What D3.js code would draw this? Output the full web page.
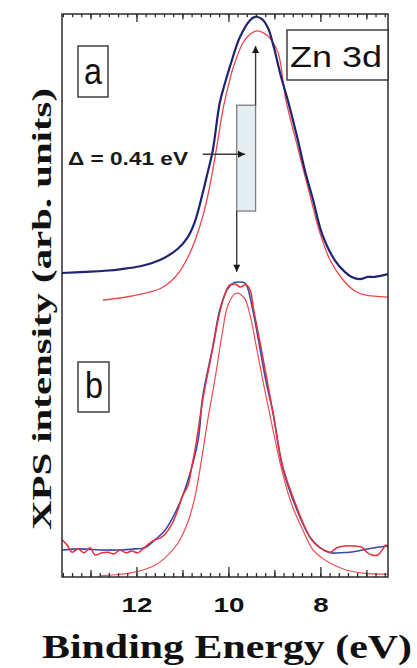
<!DOCTYPE html>
<html>
<head>
<meta charset="utf-8">
<script src="https://cdn.jsdelivr.net/npm/d3@7"></script>
<style>
  html, body { margin: 0; padding: 0; background: #fff; }
  svg { display: block; }
</style>
</head>
<body>
<svg id="chart" width="417" height="668"></svg>
<script>
// Zn 3d core-level spectra: binding energy (eV) vs. intensity (arb. units)

// (a) measured spectrum
const energyA = [13.63,13.13,12.70,12.33,11.93,11.50,11.11,10.89,10.74,10.57,10.46,10.35,10.20,10.09,9.98,9.76,9.54,9.43,9.28,9.15,9.02,8.87,8.72,8.50,8.35,8.17,7.98,7.70,7.48,7.33,7.15,6.98,6.83,6.54];
const intensityA = [54.0,54.2,54.4,54.7,55.2,56.3,58.3,60.4,63.1,68.2,71.9,75.8,84.2,87.6,90.6,95.9,98.9,99.5,99.1,97.5,94.0,89.0,84.7,77.6,72.3,67.0,61.1,56.3,54.2,53.3,52.9,53.3,53.3,53.8];

// (a) fitted curve
const energyAFit = [12.74,12.33,11.89,11.50,11.28,11.07,10.85,10.70,10.57,10.46,10.35,10.24,10.13,10.02,9.91,9.70,9.54,9.39,9.24,9.11,8.93,8.76,8.50,8.24,8.02,7.80,7.52,7.26,7.04,6.54];
const intensityAFit = [49.2,49.6,50.3,51.2,52.4,54.3,57.5,60.6,64.0,67.7,72.3,77.6,83.0,87.0,90.4,94.8,96.4,97.0,96.6,95.7,93.1,84.7,76.2,67.9,61.1,56.3,52.8,50.8,50.1,49.7];

// (b) measured spectrum, blue
const energyB = [13.63,13.24,12.80,12.37,12.04,11.83,11.61,11.39,11.11,10.89,10.67,10.57,10.35,10.20,10.04,9.91,9.78,9.65,9.59,9.48,9.33,9.20,9.04,8.83,8.52,8.24,8.02,7.80,7.59,7.37,7.09,6.83,6.54];
const intensityB = [4.8,5.0,4.8,4.8,5.0,5.2,6.6,8.3,12.4,17.2,24.3,32.0,40.9,47.4,51.0,52.2,52.4,52.2,51.3,47.4,40.9,35.0,29.1,19.4,11.9,7.1,5.2,4.3,4.3,4.4,4.8,5.2,5.5];

// (b) measured spectrum, red
const energyB2 = [13.63,13.52,13.41,13.28,13.15,13.02,12.91,12.76,12.63,12.50,12.37,12.24,12.11,11.98,11.87,11.72,11.61,11.50,11.39,11.24,11.11,11.02,10.89,10.80,10.72,10.57,10.35,10.20,10.07,9.98,9.85,9.76,9.63,9.54,9.46,9.30,9.04,8.83,8.52,8.35,8.20,8.02,7.80,7.65,7.48,7.26,7.11,7.00,6.89,6.76,6.65,6.59,6.54];
const intensityB2 = [6.6,5.7,4.4,5.0,4.3,5.2,3.9,4.3,4.4,4.1,4.8,4.3,4.6,4.3,5.0,6.0,6.6,6.9,7.6,9.4,11.9,14.2,16.3,19.9,23.4,31.4,40.7,47.0,50.6,51.9,52.0,51.5,51.9,51.0,47.4,40.7,29.1,19.7,12.3,8.9,6.6,5.2,4.4,5.2,5.5,5.5,5.3,4.4,3.9,3.9,5.0,5.7,5.3];

// (b) fitted curve
const energyBFit = [12.80,12.48,12.15,11.89,11.61,11.39,11.11,10.89,10.74,10.59,10.46,10.30,10.15,10.02,9.85,9.67,9.54,9.39,9.22,9.04,8.85,8.63,8.39,8.17,7.98,7.80,7.43,7.09,6.54];
const intensityBFit = [0.2,0.4,0.7,1.2,2.1,3.4,6.0,9.8,14.2,21.1,27.9,35.3,43.0,48.3,50.4,49.6,46.5,40.3,33.2,26.1,19.0,12.8,8.3,4.8,3.4,2.5,1.2,0.7,0.5];

// peak positions and the shift between them
const peakA = 9.42;
const peakB = 9.83;
const shiftLabel = "Δ = 0.41 eV";

const tickLabels = [12, 10, 8];
const oddTicks = [13, 11, 9, 7];
const xDomain = [13.63, 6.54];
const yDomain = [0, 100];

const svg = d3.select("#chart");
const M = { left: 62, right: 388, top: 14, bottom: 577 };

const x = d3.scaleLinear().domain(xDomain).range([M.left, M.right]);
const y = d3.scaleLinear().domain(yDomain).range([M.bottom, M.top]);

svg.append("defs").append("clipPath").attr("id", "plotClip")
  .append("rect")
  .attr("x", M.left).attr("y", M.top)
  .attr("width", M.right - M.left).attr("height", M.bottom - M.top);

const lineGen = d3.line().x(d => x(d[0])).y(d => y(d[1])).curve(d3.curveCatmullRom.alpha(0.5));
const zip = (a, b) => a.map((v, i) => [v, b[i]]);

const curves = svg.append("g").attr("clip-path", "url(#plotClip)");
const series = [
  { e: energyBFit, v: intensityBFit, color: "#ec4b4f", w: 1.2 },
  { e: energyB, v: intensityB, color: "#3c47a6", w: 1.6 },
  { e: energyB2, v: intensityB2, color: "#e6303b", w: 1.5 },
  { e: energyAFit, v: intensityAFit, color: "#ee4448", w: 1.3 },
  { e: energyA, v: intensityA, color: "#1f2470", w: 2.2 }
];
series.forEach(s => {
  curves.append("path")
    .attr("d", lineGen(zip(s.e, s.v)))
    .attr("fill", "none")
    .attr("stroke", s.color)
    .attr("stroke-width", s.w)
    .attr("stroke-linejoin", "round");
});

// frame
svg.append("rect")
  .attr("x", M.left).attr("y", M.top)
  .attr("width", M.right - M.left).attr("height", M.bottom - M.top)
  .attr("fill", "none").attr("stroke", "#2b2b2b").attr("stroke-width", 1.5);

// inward tick marks on the top and bottom edges, placed with the x scale
const minorTicks = d3.range(66, 137, 2).map(v => v / 10);
const tickSpecs = [
  ...minorTicks.map(v => ({ v, len: 4 })),
  ...oddTicks.map(v => ({ v, len: 7 })),
  ...tickLabels.map(v => ({ v, len: 10 }))
];
const tickG = svg.append("g").attr("class", "edge-ticks");
tickG.selectAll("line.bottom-tick")
  .data(tickSpecs)
  .join("line")
  .attr("class", "bottom-tick")
  .attr("x1", d => x(d.v)).attr("x2", d => x(d.v))
  .attr("y1", M.bottom).attr("y2", d => M.bottom - d.len)
  .attr("stroke", "#2b2b2b").attr("stroke-width", 1.3);
tickG.selectAll("line.top-tick")
  .data(tickSpecs)
  .join("line")
  .attr("class", "top-tick")
  .attr("x1", d => x(d.v)).attr("x2", d => x(d.v))
  .attr("y1", M.top).attr("y2", d => M.top + d.len * 0.8)
  .attr("stroke", "#2b2b2b").attr("stroke-width", 1.3);

// tick labels
tickLabels.forEach(t => {
  const txt = svg.append("text")
    .attr("x", x(t)).attr("y", 612)
    .attr("text-anchor", "middle")
    .attr("font-family", "Liberation Sans, Arial, sans-serif")
    .attr("font-weight", "bold")
    .attr("font-size", 21)
    .attr("fill", "#111")
    .text(t);
  const w = txt.node().getComputedTextLength();
  txt.attr("textLength", w * 1.32).attr("lengthAdjust", "spacingAndGlyphs");
});

// axis titles
svg.append("text")
  .attr("x", 42).attr("y", 658)
  .attr("font-family", "Liberation Serif, Times New Roman, serif")
  .attr("font-weight", "bold")
  .attr("font-size", 34)
  .attr("fill", "#111")
  .attr("textLength", 370).attr("lengthAdjust", "spacingAndGlyphs")
  .text("Binding Energy (eV)");

svg.append("text")
  .attr("transform", "translate(51,309) rotate(-90)")
  .attr("text-anchor", "middle")
  .attr("font-family", "Liberation Serif, Times New Roman, serif")
  .attr("font-weight", "bold")
  .attr("font-size", 27)
  .attr("fill", "#111")
  .attr("textLength", 442).attr("lengthAdjust", "spacingAndGlyphs")
  .text("XPS intensity (arb. units)");

// boxed labels
function boxLabel(bx, by, bw, bh, label, size, tx, ty, tw) {
  svg.append("rect").attr("x", bx).attr("y", by).attr("width", bw).attr("height", bh)
    .attr("fill", "#fff").attr("stroke", "#333").attr("stroke-width", 1.4);
  svg.append("text").attr("x", tx).attr("y", ty)
    .attr("font-family", "Liberation Sans, Arial, sans-serif")
    .attr("font-size", size).attr("fill", "#111")
    .attr("textLength", tw).attr("lengthAdjust", "spacingAndGlyphs")
    .text(label);
}
boxLabel(287, 30, 101, 50, "Zn 3d", 30, 290, 67, 92);
boxLabel(78, 46, 30, 51, "a", 36, 84, 84, 18);
boxLabel(78, 362, 31, 50, "b", 36, 85, 398, 18);

// shift annotation
const ann = svg.append("g");
const arrowColor = "#3a3a3a";
ann.append("rect")
  .attr("x", x(peakB)).attr("y", y(83.8))
  .attr("width", x(peakA) - x(peakB)).attr("height", y(65.0) - y(83.8))
  .attr("fill", "#e4eef2").attr("stroke", "#7d7d7d").attr("stroke-width", 1.3);

function arrow(x1, y1, x2, y2) {
  ann.append("line").attr("x1", x1).attr("y1", y1).attr("x2", x2).attr("y2", y2)
    .attr("stroke", arrowColor).attr("stroke-width", 1.4);
  const a = Math.atan2(y2 - y1, x2 - x1), L = 7, W = 3.5;
  const p = [
    [x2, y2],
    [x2 - L * Math.cos(a) + W * Math.sin(a), y2 - L * Math.sin(a) - W * Math.cos(a)],
    [x2 - L * Math.cos(a) - W * Math.sin(a), y2 - L * Math.sin(a) + W * Math.cos(a)]
  ];
  ann.append("polygon").attr("points", p.map(d => d.join(",")).join(" ")).attr("fill", "#1a1a1a");
}
arrow(x(peakA), y(83.8), x(peakA), y(94.3));
arrow(x(peakB), y(65.0), x(peakB), y(54.2));
arrow(x(10.57), y(75.1), x(9.65), y(75.1));

ann.append("text")
  .attr("x", 68).attr("y", 165)
  .attr("font-family", "Liberation Sans, Arial, sans-serif")
  .attr("font-weight", "bold")
  .attr("font-size", 18)
  .attr("fill", "#1a1a1a")
  .attr("textLength", 120).attr("lengthAdjust", "spacingAndGlyphs")
  .text(shiftLabel);
</script>
</body>
</html>
